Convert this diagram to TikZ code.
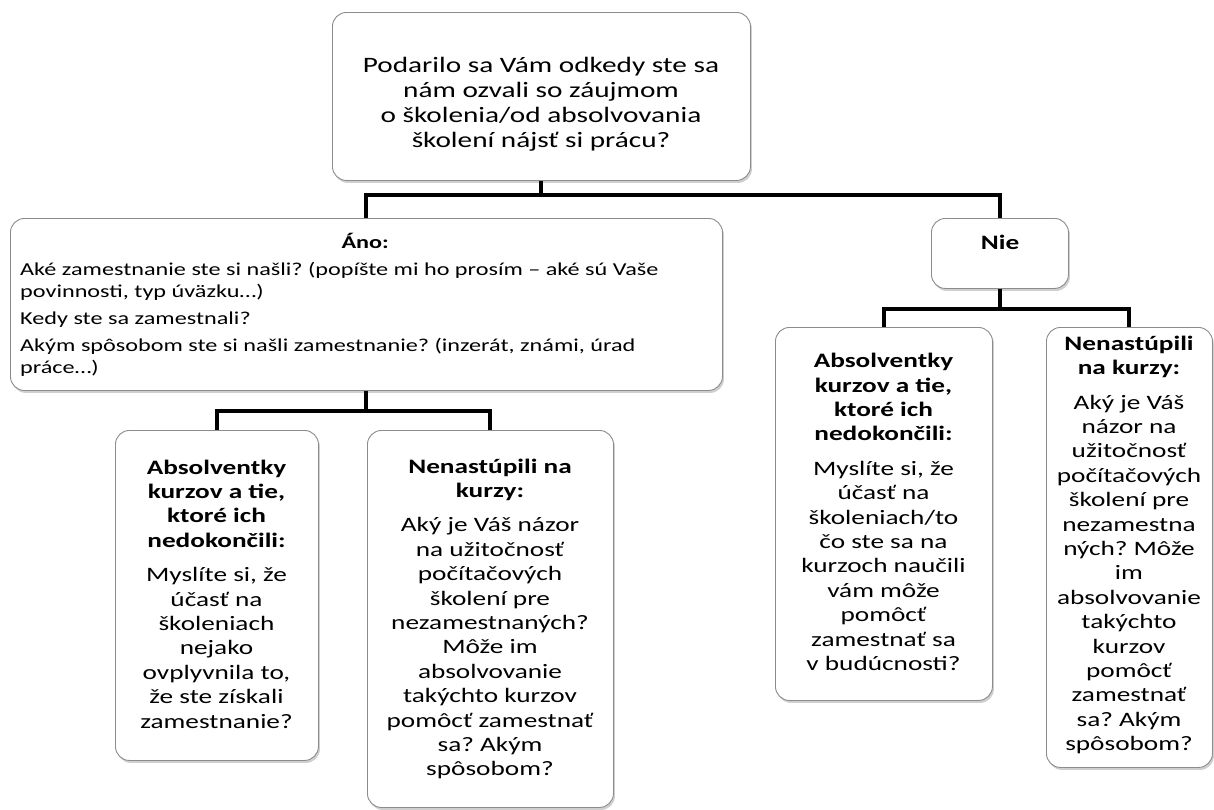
\documentclass[tikz,border=0pt]{standalone}
\usepackage{fontspec}
\setmainfont{Carlito}[FakeStretch=1.33]
\usetikzlibrary{shadows,calc}
\frenchspacing
\begin{document}
\begin{tikzpicture}[x=1pt,y=-1pt,
  box/.style={draw=black!45, line width=0.9pt, rounded corners=14pt, fill=white,
    drop shadow={shadow xshift=1.5pt, shadow yshift=-2.5pt, opacity=0.38},
    inner sep=0pt, anchor=north west},
  conn/.style={line width=4pt, black},
  txt/.style={inner sep=0pt, align=center, text=black},
  big/.style={font=\fontsize{20.5}{24.4}\selectfont}]
\useasboundingbox (0,0) rectangle (1214,809);
% boxes
\node[box, minimum width=418pt, minimum height=168pt] (q) at (332,12) {};
\node[box, minimum width=712pt, minimum height=172pt] (ano) at (10,218) {};
\node[box, minimum width=137pt, minimum height=70pt] (nie) at (931,218) {};
\node[box, minimum width=203pt, minimum height=330pt] (a1) at (115,430) {};
\node[box, minimum width=246pt, minimum height=377pt] (a2) at (367,430) {};
\node[box, minimum width=217pt, minimum height=373pt] (n1) at (775,327) {};
\node[box, minimum width=166pt, minimum height=440pt] (n2) at (1046,327) {};
% connectors
\draw[conn] (q.south) -- ++(0,14) coordinate (j1) -| (ano.north);
\draw[conn] (j1) -| (nie.north);
\draw[conn] (ano.south) -- ++(0,20) coordinate (j2) -| (a1.north);
\draw[conn] (j2) -| (a2.north);
\draw[conn] (nie.south) -- ++(0,20) coordinate (j3) -| (n1.north);
\draw[conn] (j3) -| (n2.north);
% texts
\node[txt, font=\fontsize{22}{25}\selectfont] (qt) at (541,104)
  {Podarilo sa Vám odkedy ste sa\\nám ozvali so záujmom\\o školenia/od absolvovania\\školení nájsť si prácu?};
\node[txt, align=left, anchor=west, font=\fontsize{18.2}{22}\selectfont] (anot) at (20,305)
  {\makebox[690pt]{\bfseries Áno:}\\[5pt]
   Aké zamestnanie ste si našli? (popíšte mi ho prosím – aké sú Vaše\\
   povinnosti, typ úväzku…)\\[5pt]
   Kedy ste sa zamestnali?\\[5pt]
   Akým spôsobom ste si našli zamestnanie? (inzerát, známi, úrad\\
   práce…)};
\node[txt, font=\fontsize{20.5}{25}\selectfont\bfseries] (niet) at (1000,242) {Nie};
\node[txt, big] (a1t) at (216.5,594)
  {\textbf{Absolventky}\\\textbf{kurzov a tie,}\\\textbf{ktoré ich}\\\textbf{nedokončili:}\\[10pt]
   Myslíte si, že\\účasť na\\školeniach\\nejako\\ovplyvnila to,\\že ste získali\\zamestnanie?};
\node[txt, big] (a2t) at (490,619)
  {\textbf{Nenastúpili na}\\\textbf{kurzy:}\\[10pt]
   Aký je Váš názor\\na užitočnosť\\počítačových\\školení pre\\nezamestnaných?\\Môže im\\absolvovanie\\takýchto kurzov\\pomôcť zamestnať\\sa? Akým\\spôsobom?};
\node[txt, big] (n1t) at (883.5,512)
  {\textbf{Absolventky}\\\textbf{kurzov a tie,}\\\textbf{ktoré ich}\\\textbf{nedokončili:}\\[10pt]
   Myslíte si, že\\účasť na\\školeniach/to\\čo ste sa na\\kurzoch naučili\\vám môže\\pomôcť\\zamestnať sa\\v budúcnosti?};
\node[txt, big] (n2t) at (1129,545)
  {\textbf{Nenastúpili}\\\textbf{na kurzy:}\\[10pt]
   Aký je Váš\\názor na\\užitočnosť\\počítačových\\školení pre\\nezamestna\\ných? Môže\\im\\absolvovanie\\takýchto\\kurzov\\pomôcť\\zamestnať\\sa? Akým\\spôsobom?};
\end{tikzpicture}
\end{document}
